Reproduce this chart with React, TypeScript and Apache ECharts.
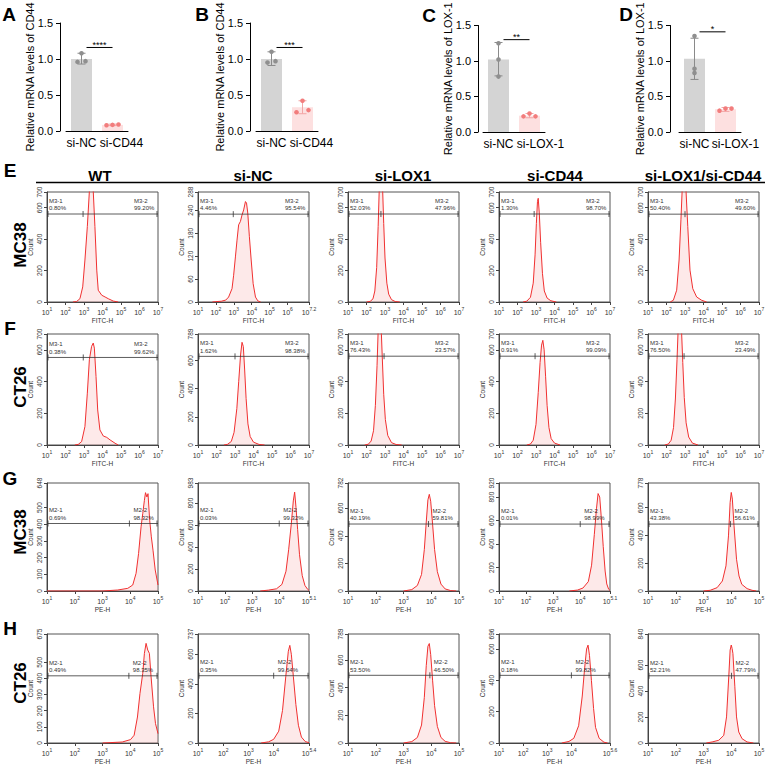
import React, { useEffect, useRef } from "react";
import * as echarts from "echarts";

const FONT = "'Liberation Sans', Arial, Helvetica, sans-serif";

// ---------- A–D : qPCR bar charts ----------
const cd44Categories = ["si-NC", "si-CD44"];
const lox1Categories = ["si-NC", "si-LOX-1"];
const barYTicks = [0, 0.5, 1.0, 1.5];

const aMeans = [1.0, 0.085];
const aErrors = [[0.93, 1.08], [0.075, 0.095]];
const aPoints = [[0.96, 1.08, 0.97], [0.08, 0.085, 0.09]];
const aSignif = 1.16;

const bMeans = [1.0, 0.33];
const bErrors = [[0.91, 1.1], [0.24, 0.42]];
const bPoints = [[0.95, 1.1, 0.97], [0.26, 0.42, 0.29]];
const bSignif = 1.16;

const cMeans = [1.02, 0.23];
const cErrors = [[0.79, 1.26], [0.2, 0.26]];
const cPoints = [[0.78, 1.25, 1.02], [0.22, 0.26, 0.22]];
const cSignif = 1.3;

const dMeans = [1.03, 0.32];
const dErrors = [[0.74, 1.32], [0.29, 0.345]];
const dPoints = [[0.83, 1.35, 0.89], [0.3, 0.33, 0.33]];
const dSignif = 1.41;

const barStars = ["****", "***", "**", "*"];
const barYNames = [
  "Relative mRNA levels of CD44",
  "Relative mRNA levels of CD44",
  "Relative mRNA levels of LOX-1",
  "Relative mRNA levels of LOX-1",
];

// ---------- E–H : flow histograms (x = log10 fluorescence, y = count) ----------
const columnTitles = ["WT", "si-NC", "si-LOX1", "si-CD44", "si-LOX1/si-CD44"];
const rowLetters = ["E", "F", "G", "H"];
const rowCells = ["MC38", "CT26", "MC38", "CT26"];
const rowChannels = ["FITC-H", "FITC-H", "PE-H", "PE-H"];
const rowGateNames = [["M3-1", "M3-2"], ["M3-1", "M3-2"], ["M2-1", "M2-2"], ["M2-1", "M2-2"]];

// Row E (MC38, FITC)
const eWT = [[2.4,0],[2.6,3],[2.78,21],[2.93,96],[3.05,267],[3.18,480],[3.29,704],[3.36,840],[3.43,850],[3.5,704],[3.59,480],[3.69,203],[3.77,75],[3.96,43],[4.14,32],[4.31,21],[4.58,6],[4.85,0]];
const eNC = [[1.8,0],[2.0,1],[2.3,2],[2.55,5],[2.71,13],[2.9,35],[2.99,70],[3.09,118],[3.18,162],[3.27,202],[3.37,211],[3.46,228],[3.55,241],[3.65,263],[3.71,259],[3.78,233],[3.87,171],[3.97,110],[4.08,48],[4.21,13],[4.34,3],[4.5,0]];
const eLOX = [[2.0,0],[2.2,4],[2.35,20],[2.45,70],[2.55,220],[2.63,480],[2.7,760],[2.78,880],[2.86,760],[2.93,500],[3.0,280],[3.1,120],[3.2,50],[3.35,15],[3.55,3],[3.8,0]];
const eCD = [[2.3,0],[2.5,5],[2.7,30],[2.85,120],[2.95,300],[3.02,500],[3.08,640],[3.12,660],[3.18,560],[3.25,380],[3.35,180],[3.45,70],[3.6,25],[3.8,8],[4.1,0]];
const eDual = [[2.2,0],[2.37,11],[2.55,75],[2.68,267],[2.78,523],[2.85,720],[2.95,860],[3.05,720],[3.15,480],[3.27,203],[3.42,85],[3.63,32],[3.9,11],[4.17,0]];
// Row F (CT26, FITC)
const fWT = [[2.5,0],[2.69,4],[2.87,21],[3.05,116],[3.18,327],[3.29,538],[3.41,622],[3.5,643],[3.56,611],[3.65,432],[3.74,221],[3.86,95],[4.04,57],[4.23,48],[4.41,32],[4.68,11],[4.85,0]];
const fNC = [[2.4,0],[2.6,5],[2.8,25],[2.95,90],[3.1,260],[3.2,450],[3.3,640],[3.38,730],[3.45,700],[3.52,540],[3.6,330],[3.7,150],[3.82,60],[4.0,20],[4.3,4],[4.6,0]];
const fLOX = [[1.9,0],[2.1,5],[2.25,25],[2.38,90],[2.48,250],[2.57,500],[2.63,720],[2.7,850],[2.78,780],[2.85,560],[2.93,320],[3.02,160],[3.15,60],[3.35,15],[3.6,3],[3.9,0]];
const fCD = [[2.5,0],[2.7,6],[2.85,30],[3.0,130],[3.12,330],[3.22,520],[3.3,630],[3.37,660],[3.44,600],[3.52,430],[3.6,250],[3.7,110],[3.82,40],[4.0,12],[4.3,0]];
const fDual = [[1.9,0],[2.1,6],[2.25,30],[2.38,110],[2.48,290],[2.57,540],[2.64,760],[2.72,860],[2.8,760],[2.88,520],[2.96,300],[3.06,140],[3.2,50],[3.4,12],[3.7,0]];
// Row G (MC38, PE)
const gWT = [[1.0,0],[3.0,0],[3.55,6],[3.91,16],[4.09,36],[4.21,106],[4.3,225],[4.39,385],[4.45,464],[4.51,544],[4.55,590],[4.6,564],[4.64,584],[4.7,425],[4.76,325],[4.82,245],[4.9,126],[5.0,36]];
const gNC = [[3.3,0],[3.6,8],[3.9,20],[4.1,60],[4.25,180],[4.35,380],[4.45,620],[4.52,820],[4.57,900],[4.62,760],[4.68,560],[4.75,330],[4.85,140],[4.95,50],[5.05,15],[5.1,5]];
const gLOX = [[3.0,0],[3.3,10],[3.5,40],[3.65,120],[3.75,300],[3.82,500],[3.88,660],[3.93,700],[3.98,650],[4.05,480],[4.12,300],[4.22,140],[4.35,50],[4.5,15],[4.7,3],[4.9,0]];
const gCD = [[3.6,0],[3.9,8],[4.1,25],[4.3,80],[4.42,220],[4.52,480],[4.6,700],[4.66,830],[4.72,800],[4.78,620],[4.85,380],[4.92,170],[4.98,60],[5.05,15],[5.1,5]];
const gDual = [[3.0,0],[3.24,5],[3.49,24],[3.68,72],[3.81,181],[3.9,397],[3.96,638],[4.0,710],[4.04,662],[4.1,470],[4.19,229],[4.28,108],[4.38,48],[4.57,17],[4.75,5],[4.9,0]];
// Row H (CT26, PE)
const hWT = [[3.0,0],[3.71,6],[4.01,21],[4.14,48],[4.26,161],[4.35,306],[4.45,431],[4.51,555],[4.57,617],[4.63,576],[4.69,555],[4.75,410],[4.84,224],[4.91,120],[5.0,58]];
const hNC = [[3.5,0],[3.8,8],[4.0,25],[4.2,80],[4.35,220],[4.48,450],[4.58,620],[4.64,660],[4.7,600],[4.78,450],[4.88,260],[4.98,120],[5.1,40],[5.25,10],[5.4,2]];
const hLOX = [[3.0,0],[3.3,10],[3.5,40],[3.65,130],[3.75,330],[3.82,560],[3.88,700],[3.93,720],[3.98,640],[4.05,450],[4.12,270],[4.22,120],[4.35,40],[4.5,12],[4.7,2],[4.9,0]];
const hCD = [[3.6,0],[3.9,10],[4.1,30],[4.3,110],[4.45,300],[4.55,480],[4.63,600],[4.69,625],[4.75,560],[4.83,400],[4.92,220],[5.0,100],[5.15,30],[5.35,5],[5.5,0]];
const hDual = [[3.1,0],[3.31,8],[3.55,21],[3.73,59],[3.83,201],[3.91,510],[3.96,716],[4.0,755],[4.03,729],[4.06,690],[4.13,433],[4.19,201],[4.27,85],[4.39,33],[4.57,8],[4.8,0]];

const histCurves = [
  [eWT, eNC, eLOX, eCD, eDual],
  [fWT, fNC, fLOX, fCD, fDual],
  [gWT, gNC, gLOX, gCD, gDual],
  [hWT, hNC, hLOX, hCD, hDual],
];
const histYTicks = [
  [[0,200,400,600,700],[0,60,120,180,240,288],[0,200,400,600,700],[0,200,400,600,700],[0,200,400,600,700]],
  [[0,200,400,600,700],[0,200,400,600,789],[0,200,400,600,700],[0,200,400,600,700],[0,200,400,600,700]],
  [[0,100,200,300,400,500,648],[0,200,400,600,800,983],[0,200,400,600,782],[0,200,400,600,800,920],[0,200,400,600,778]],
  [[0,100,200,300,400,500,675],[0,200,400,600,737],[0,200,400,600,789],[0,200,400,600,696],[0,200,400,600,840]],
];
const histXTicks = [
  [[1,2,3,4,5,6,7],[1,2,3,4,5,6,7.2],[1,2,3,4,5,6,7],[1,2,3,4,5,6,7],[1,2,3,4,5,6,7]],
  [[1,2,3,4,5,6,7],[1,2,3,4,5,6,7],[1,2,3,4,5,6,7],[1,2,3,4,5,6,7],[1,2,3,4,5,6,7]],
  [[1,2,3,4,5],[1,2,3,4,5.1],[1,2,3,4,5],[1,2,3,4,5.1],[1,2,3,4,5]],
  [[1,2,3,4,5],[1,2,3,4,5.4],[1,2,3,4,5],[1,2,3,4,5.6],[1,2,3,4,5]],
];
const gateLevels = [
  [560, 230, 560, 560, 559],
  [552, 630, 560, 560, 560],
  [405, 614, 485, 570, 482],
  [416, 455, 490, 432, 518],
];
const gateMarkers = [
  [2.95, 2.97, 2.78, 2.9, 3.0],
  [2.96, 3.0, 2.95, 2.95, 2.95],
  [3.97, 4.0, 3.9, 4.0, 3.97],
  [3.95, 4.0, 3.95, 4.0, 4.01],
];
const gateLeftPct = [
  ["0.80%", "4.46%", "52.03%", "1.30%", "50.40%"],
  ["0.38%", "1.62%", "76.43%", "0.91%", "76.50%"],
  ["0.69%", "0.03%", "40.19%", "0.01%", "43.38%"],
  ["0.49%", "0.35%", "53.50%", "0.18%", "52.21%"],
];
const gateRightPct = [
  ["99.20%", "95.54%", "47.96%", "98.70%", "49.60%"],
  ["99.62%", "98.38%", "23.57%", "99.09%", "23.49%"],
  ["98.32%", "99.32%", "59.81%", "98.99%", "56.61%"],
  ["98.35%", "99.64%", "46.50%", "99.82%", "47.79%"],
];

// ---------- layout (pixels) ----------
const BAR_LAYOUT = [
  { axisX: 60, left: 66, top: 23, bottom: 131, shift: 18 },
  { axisX: 250, left: 256, top: 23, bottom: 131, shift: 18 },
  { axisX: 478, left: 483, top: 23, bottom: 132, shift: 22 },
  { axisX: 670, left: 679, top: 23, bottom: 132, shift: 20 },
];
const BAR_JITTER = [[4, 6], [4, 6], [0, 6], [0, 6]];
const COL_LEFT = [47, 198, 348, 499, 648];
const COL_W = 111;
const ROW_TOP = [192, 334, 483, 634];
const ROW_H = [110, 111, 108, 109];

function fmtExp(v: number) {
  return String(Math.round(v * 10) / 10);
}

function buildOption() {
  const grid: any[] = [];
  const xAxis: any[] = [];
  const yAxis: any[] = [];
  const series: any[] = [];
  const graphic: any[] = [];

  const barSets = [
    { cats: cd44Categories, means: aMeans, err: aErrors, pts: aPoints, sig: aSignif },
    { cats: cd44Categories, means: bMeans, err: bErrors, pts: bPoints, sig: bSignif },
    { cats: lox1Categories, means: cMeans, err: cErrors, pts: cPoints, sig: cSignif },
    { cats: lox1Categories, means: dMeans, err: dErrors, pts: dPoints, sig: dSignif },
  ];

  barSets.forEach((set, i) => {
    const L = BAR_LAYOUT[i];
    const idx = grid.length;
    grid.push({ left: L.left, top: L.top, width: 62, height: L.bottom - L.top });
    xAxis.push({
      gridIndex: idx,
      type: "category",
      data: set.cats,
      axisLine: { lineStyle: { color: "#000", width: 1 } },
      axisTick: { alignWithLabel: true, length: 4, lineStyle: { color: "#000" } },
      axisLabel: {
        interval: 0,
        hideOverlap: false,
        color: "#000",
        fontSize: 12,
        fontFamily: FONT,
        margin: 6,
        formatter: (v: string, k: number) => (k === 1 ? `{r|${v}}` : v),
        rich: { r: { fontSize: 12, fontFamily: FONT, color: "#000", padding: [0, 0, 0, L.shift] } },
      },
    });
    yAxis.push({
      gridIndex: idx,
      type: "value",
      min: 0,
      max: 1.5,
      interval: 0.5,
      offset: L.left - L.axisX,
      axisLine: { show: true, lineStyle: { color: "#000", width: 1 } },
      axisTick: { show: true, length: 4, lineStyle: { color: "#000" } },
      axisLabel: {
        color: "#000",
        fontSize: 11,
        fontFamily: FONT,
        margin: 7,
        customValues: barYTicks,
        formatter: (v: number) => v.toFixed(1),
      },
      splitLine: { show: false },
      name: barYNames[i],
      nameLocation: "middle",
      nameGap: 25,
      nameMoveOverlap: false,
      nameTextStyle: { fontSize: 11, fontFamily: FONT, color: "#000" },
    });
    series.push({
      type: "bar",
      xAxisIndex: idx,
      yAxisIndex: idx,
      barWidth: 21,
      z: 2,
      data: set.means.map((m, j) => ({ value: m, itemStyle: { color: j === 0 ? "#d4d4d4" : "#fde0e0" } })),
      silent: true,
    });
    const jit = BAR_JITTER[i];
    series.push({
      type: "custom",
      xAxisIndex: idx,
      yAxisIndex: idx,
      silent: true,
      z: 10,
      data: set.means.map((m, j) => [j, m, set.err[j][0], set.err[j][1], ...set.pts[j]]),
      renderItem: (params: any, api: any) => {
        const j = api.value(0);
        const pLo = api.coord([j, api.value(2)]);
        const pHi = api.coord([j, api.value(3)]);
        const kd = j === 1;
        const ec = kd ? "#f2a5a5" : "#8a8a8a";
        const dc = kd ? "#f27d7d" : "#8f8f8f";
        const x = pLo[0];
        const children: any[] = [
          { type: "line", shape: { x1: x, y1: pLo[1], x2: x, y2: pHi[1] }, style: { stroke: ec, lineWidth: 1 } },
          { type: "line", shape: { x1: x - 4, y1: pLo[1], x2: x + 4, y2: pLo[1] }, style: { stroke: ec, lineWidth: 1 } },
          { type: "line", shape: { x1: x - 4, y1: pHi[1], x2: x + 4, y2: pHi[1] }, style: { stroke: ec, lineWidth: 1 } },
        ];
        const spread = jit[j];
        [4, 5, 6].forEach((dim, k) => {
          const p = api.coord([j, api.value(dim)]);
          children.push({ type: "circle", shape: { cx: x + (k - 1) * spread, cy: p[1], r: 2.3 }, style: { fill: dc } });
        });
        return { type: "group", children };
      },
    });
    const stars = barStars[i];
    series.push({
      type: "custom",
      xAxisIndex: idx,
      yAxisIndex: idx,
      silent: true,
      z: 10,
      data: [[0, set.sig]],
      renderItem: (params: any, api: any) => {
        const p0 = api.coord([0, api.value(1)]);
        const p1 = api.coord([1, api.value(1)]);
        const x0 = p0[0] + 5;
        return {
          type: "group",
          children: [
            { type: "line", shape: { x1: x0, y1: p0[1], x2: p1[0], y2: p1[1] }, style: { stroke: "#000", lineWidth: 1 } },
            {
              type: "text",
              style: {
                text: stars, x: (x0 + p1[0]) / 2, y: p0[1] + 2,
                align: "center", verticalAlign: "bottom", textAlign: "center", textVerticalAlign: "bottom",
                fontSize: 9, fontFamily: FONT, fill: "#000",
              },
            },
          ],
        };
      },
    });
  });

  // flow histograms
  for (let r = 0; r < 4; r++) {
    for (let c = 0; c < 5; c++) {
      const idx = grid.length;
      const xt = histXTicks[r][c];
      const yt = histYTicks[r][c];
      const xMax = xt[xt.length - 1];
      const yMax = yt[yt.length - 1];
      grid.push({
        left: COL_LEFT[c], top: ROW_TOP[r], width: COL_W, height: ROW_H[r],
        show: true, borderColor: "#555", borderWidth: 1, backgroundColor: "transparent",
      });
      xAxis.push({
        gridIndex: idx,
        type: "value",
        min: 1,
        max: xMax,
        axisLine: { lineStyle: { color: "#444", width: 1 } },
        axisTick: { customValues: xt, length: 3, lineStyle: { color: "#444" } },
        axisLabel: {
          customValues: xt,
          margin: 4,
          formatter: (v: number) => `{b|10}{s|${fmtExp(v)}}`,
          rich: {
            b: { fontSize: 7, fontFamily: FONT, color: "#333", verticalAlign: "bottom", lineHeight: 10 },
            s: { fontSize: 5, fontFamily: FONT, color: "#333", verticalAlign: "top", lineHeight: 10 },
          },
        },
        splitLine: { show: false },
        name: rowChannels[r],
        nameLocation: "middle",
        nameGap: 15,
        nameMoveOverlap: false,
        nameTextStyle: { fontSize: 6.5, fontFamily: FONT, color: "#333" },
      });
      yAxis.push({
        gridIndex: idx,
        type: "value",
        min: 0,
        max: yMax,
        axisLine: { show: true, lineStyle: { color: "#444", width: 1 } },
        axisTick: { show: true, customValues: yt, length: 3, lineStyle: { color: "#444" } },
        axisLabel: { customValues: yt, rotate: 90, fontSize: 6.5, fontFamily: FONT, color: "#333", margin: 4 },
        splitLine: { show: false },
        name: "Count",
        nameLocation: "middle",
        nameGap: 13,
        nameMoveOverlap: false,
        nameTextStyle: { fontSize: 6.5, fontFamily: FONT, color: "#333" },
      });
      series.push({
        type: "line",
        xAxisIndex: idx,
        yAxisIndex: idx,
        data: histCurves[r][c],
        showSymbol: false,
        symbol: "none",
        clip: true,
        silent: true,
        lineStyle: { color: "#f03030", width: 1 },
        areaStyle: { color: "rgba(245,150,150,0.3)" },
      });
      const names = rowGateNames[r];
      const lp = gateLeftPct[r][c];
      const rp = gateRightPct[r][c];
      const atMarker = r >= 2;
      series.push({
        type: "custom",
        xAxisIndex: idx,
        yAxisIndex: idx,
        silent: true,
        z: 5,
        data: [[1, gateMarkers[r][c], xMax, gateLevels[r][c]]],
        renderItem: (params: any, api: any) => {
          const y = api.value(3);
          const pL = api.coord([api.value(0), y]);
          const pM = api.coord([api.value(1), y]);
          const pR = api.coord([api.value(2), y]);
          const y0 = pL[1];
          const st = { stroke: "#333", lineWidth: 0.8 };
          const tick = (x: number) => ({ type: "line", shape: { x1: x, y1: y0 - 3, x2: x, y2: y0 + 3 }, style: st });
          const rx = atMarker ? pM[0] + 4 : pR[0] - 24;
          const txt = (t: string, x: number) => ({
            type: "text",
            style: {
              text: t, x, y: y0 - 2,
              align: "left", verticalAlign: "bottom", textAlign: "left", textVerticalAlign: "bottom",
              fontSize: 6, lineHeight: 7.5, fontFamily: FONT, fill: "#333",
            },
          });
          return {
            type: "group",
            children: [
              { type: "line", shape: { x1: pL[0], y1: y0, x2: pR[0], y2: y0 }, style: st },
              tick(pL[0] + 1),
              tick(pM[0]),
              tick(pR[0] - 1),
              txt(`${names[0]}\n${lp}`, pL[0] + 2),
              txt(`${names[1]}\n${rp}`, rx),
            ],
          };
        },
      });
    }
  }

  // static texts
  const letter = (t: string, x: number, y: number) => ({
    type: "text", x, y,
    style: {
      text: t, font: `bold 19px ${FONT}`, fill: "#000",
      textAlign: "center", textVerticalAlign: "middle", align: "center", verticalAlign: "middle",
    },
  });
  [["A", 9, 14], ["B", 202, 14], ["C", 429, 15], ["D", 626, 14]].forEach((l: any) => graphic.push(letter(l[0], l[1], l[2])));
  const letterY = [170, 328, 478, 628];
  rowLetters.forEach((t, r) => graphic.push(letter(t, 10, letterY[r])));
  const titleX = [100, 253, 403, 555, 703];
  columnTitles.forEach((t, c) =>
    graphic.push({
      type: "text", x: titleX[c], y: 175,
      style: {
        text: t, font: `bold 15px ${FONT}`, fill: "#000",
        textAlign: "center", textVerticalAlign: "middle", align: "center", verticalAlign: "middle",
      },
    })
  );
  graphic.push({ type: "line", shape: { x1: 36, y1: 182.5, x2: 765, y2: 182.5 }, style: { stroke: "#000", lineWidth: 1.5 } });
  const cellY = [245, 387, 532, 683];
  rowCells.forEach((t, r) =>
    graphic.push({
      type: "text", x: 20, y: cellY[r], rotation: Math.PI / 2,
      style: {
        text: t, font: `bold 17px ${FONT}`, fill: "#000",
        textAlign: "center", textVerticalAlign: "middle", align: "center", verticalAlign: "middle",
      },
    })
  );

  return {
    animation: false,
    backgroundColor: "#ffffff",
    textStyle: { fontFamily: FONT },
    grid,
    xAxis,
    yAxis,
    series,
    graphic,
  };
}

export default function App() {
  const ref = useRef<HTMLDivElement>(null);
  useEffect(() => {
    document.body.style.margin = "0";
    if (!ref.current) return;
    const chart = echarts.init(ref.current, undefined, { renderer: "svg" });
    chart.setOption(buildOption() as any);
    return () => chart.dispose();
  }, []);
  return <div ref={ref} style={{ position: "absolute", left: 0, top: 0, width: 768, height: 770 }} />;
}
